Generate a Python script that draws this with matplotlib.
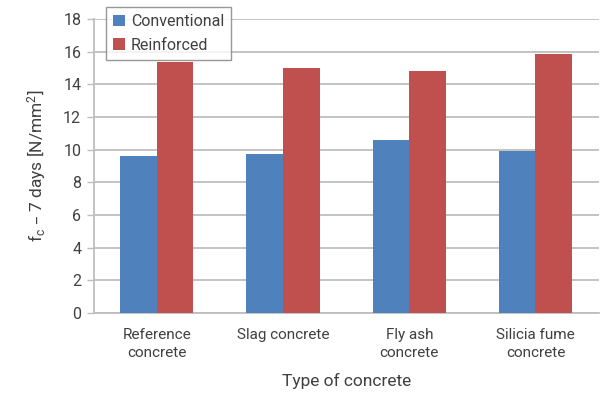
import numpy as np
import matplotlib
matplotlib.use("Agg")
import matplotlib.pyplot as plt

# data
categories = ["Reference\nconcrete", "Slag concrete", "Fly ash\nconcrete", "Silicia fume\nconcrete"]
conventional = [9.6, 9.75, 10.6, 9.9]
reinforced = [15.35, 15.0, 14.8, 15.85]
yticks = [0, 2, 4, 6, 8, 10, 12, 14, 16, 18]

plt.rcParams['font.family'] = ['Roboto', 'DejaVu Sans']
plt.rcParams['mathtext.default'] = 'regular'
text_color = "#404040"
grid_color = "#BEBEBE"

fig = plt.figure(figsize=(6.01, 3.98), dpi=100)
ax = fig.add_axes([0.156, 0.2136, 0.84, 0.7387])

x = np.arange(len(categories))
w = 0.29
ax.bar(x - w / 2, conventional, w, color="#4F81BD", label="Conventional", zorder=3)
ax.bar(x + w / 2, reinforced, w, color="#C0504D", label="Reinforced", zorder=3)

ax.set_xlim(-0.5, 3.5)
ax.set_ylim(0, 18)
ax.set_yticks(yticks)
ax.yaxis.grid(True, color=grid_color, linewidth=1.3, zorder=0)
ax.set_xticks(x)
ax.set_xticklabels(categories, fontsize=11, color=text_color, linespacing=1.3)
ax.tick_params(axis='x', length=0, pad=11)
ax.tick_params(axis='y', length=5, width=1.0, color=grid_color, labelsize=11.5, labelcolor=text_color, pad=4)

for s in ["top", "right"]:
    ax.spines[s].set_visible(False)
for s in ["left", "bottom"]:
    ax.spines[s].set_color(grid_color)
    ax.spines[s].set_linewidth(1.3)

ax.set_xlabel("Type of concrete", fontsize=12.5, color=text_color, labelpad=10)
ax.set_ylabel("f$_c$ – 7 days [N/mm$^2$]", fontsize=12.5, color=text_color, labelpad=11)

leg = ax.legend(loc="upper left", bbox_to_anchor=(0.024, 1.041), fontsize=11.5, frameon=True, fancybox=False,
                handlelength=0.75, handleheight=0.75, handletextpad=0.35, borderpad=0.45, labelspacing=0.55,
                borderaxespad=0)
leg.get_frame().set_edgecolor("#7F7F7F")
leg.get_frame().set_linewidth(1.0)
for t in leg.get_texts():
    t.set_color(text_color)

fig.savefig("out.png", dpi=100)
